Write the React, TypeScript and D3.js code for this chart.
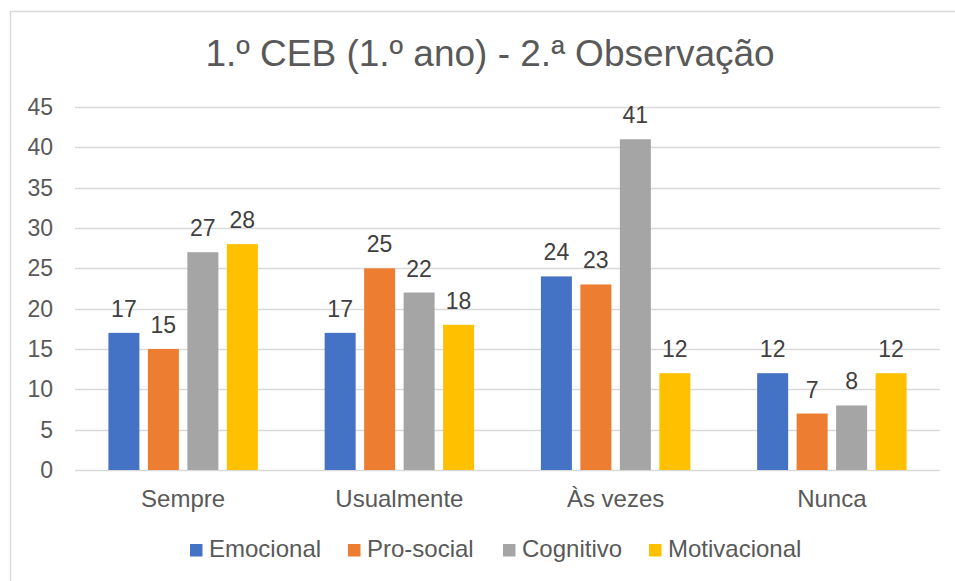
import * as d3 from 'd3';

const CATEGORIES = ['Sempre', 'Usualmente', 'Às vezes', 'Nunca'];
const SERIES = ['Emocional', 'Pro-social', 'Cognitivo', 'Motivacional'];
const EMOCIONAL = [17, 17, 24, 12];
const PRO_SOCIAL = [15, 25, 23, 7];
const COGNITIVO = [27, 22, 41, 8];
const MOTIVACIONAL = [28, 18, 12, 12];
const Y_TICKS = [0, 5, 10, 15, 20, 25, 30, 35, 40, 45];
const TITLE = '1.º CEB (1.º ano) - 2.ª Observação';

const COLORS = ['#4472C4', '#ED7D31', '#A5A5A5', '#FFC000'];
const VALUES = [EMOCIONAL, PRO_SOCIAL, COGNITIVO, MOTIVACIONAL];

const W = 955;
const H = 581;
const TEXT = '#595959';
const FONT = '"Liberation Sans", Arial, sans-serif';

export default function App() {
  const plot = { left: 75, right: 940, top: 107, bottom: 470 };

  const x0 = d3.scaleBand<string>().domain(CATEGORIES).range([plot.left, plot.right]);
  const outer = 33.4;
  const x1 = d3.scaleBand<string>()
    .domain(SERIES)
    .range([outer, x0.bandwidth() - outer])
    .paddingInner(0.215)
    .paddingOuter(0);
  const y = d3.scaleLinear().domain([0, 45]).range([plot.bottom, plot.top]);

  // legend layout (left edge of each square)
  const legendX = [190, 348, 503, 649];

  return (
    <svg width={W} height={H} style={{ position: 'absolute', left: 0, top: 0, background: '#fff' }}
      fontFamily={FONT}>
      <rect x={10.5} y={11.5} width={W} height={H} fill="#fff" stroke="#D9D9D9" strokeWidth={1.5} />

      <text x={490} y={66} textAnchor="middle" fontSize={37} fill={TEXT}>{TITLE}</text>

      {Y_TICKS.map(t => (
        <g key={t}>
          <line x1={plot.left} x2={plot.right} y1={Math.round(y(t)) + 0.5} y2={Math.round(y(t)) + 0.5}
            stroke="#D9D9D9" strokeWidth={1.5} />
          <text x={53} y={y(t)} dy="0.35em" textAnchor="end" fontSize={23} fill={TEXT}>{t}</text>
        </g>
      ))}

      {CATEGORIES.map((c, ci) => (
        <g key={c} transform={`translate(${x0(c)},0)`}>
          {SERIES.map((s, si) => {
            const v = VALUES[si][ci];
            const bx = x1(s)!;
            return (
              <g key={s}>
                <rect x={bx} y={y(v)} width={x1.bandwidth()} height={y(0) - y(v)} fill={COLORS[si]} />
                <text x={bx + x1.bandwidth() / 2} y={y(v) - 16} textAnchor="middle" fontSize={23} fill="#404040">{v}</text>
              </g>
            );
          })}
          <text x={x0.bandwidth() / 2} y={507} textAnchor="middle" fontSize={24} fill={TEXT}>{c}</text>
        </g>
      ))}

      {SERIES.map((s, si) => (
        <g key={s} transform={`translate(${legendX[si]},557)`}>
          <rect x={0} y={-13} width={12.5} height={12.5} fill={COLORS[si]} />
          <text x={19} y={0} fontSize={24} fill={TEXT}>{s}</text>
        </g>
      ))}
    </svg>
  );
}
